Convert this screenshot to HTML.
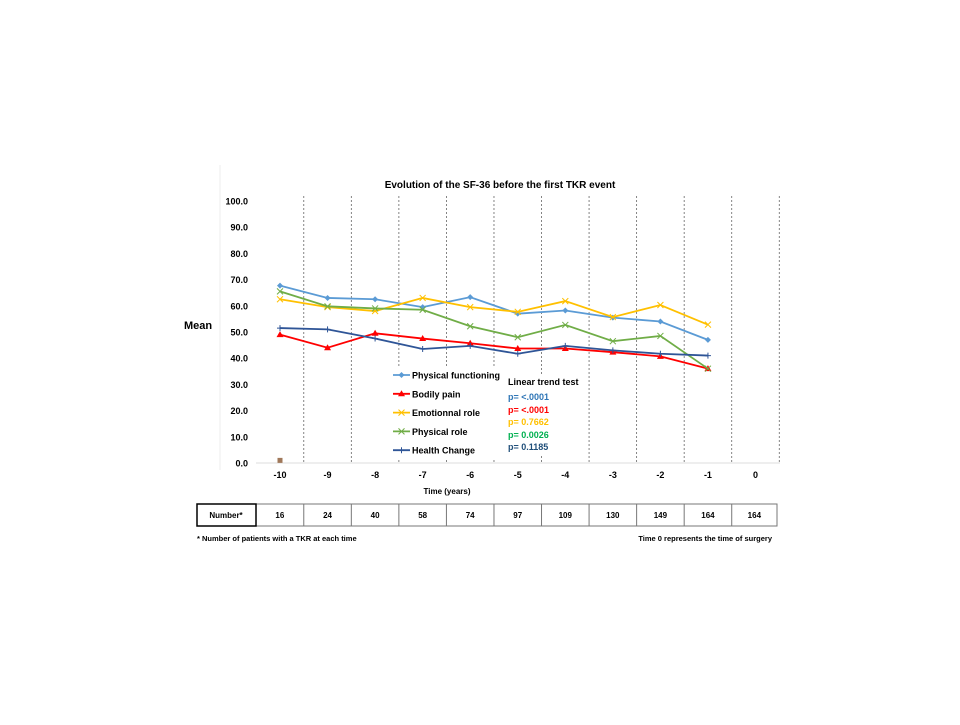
<!DOCTYPE html>
<html><head><meta charset="utf-8"><style>
body{margin:0;background:#fff;font-family:"Liberation Sans",sans-serif;}
svg text{font-family:"Liberation Sans",sans-serif;font-weight:bold;}
</style></head><body>
<svg id="c" width="960" height="720" viewBox="0 0 960 720">
<text x="500" y="188" font-size="10" text-anchor="middle">Evolution of the SF-36 before the first TKR event</text>
<text x="198" y="329" font-size="11" text-anchor="middle">Mean</text>
<text x="447" y="494" font-size="8" text-anchor="middle">Time (years)</text>
<line x1="220" y1="165" x2="220" y2="470" stroke="#eee"/>
<line x1="256" y1="463" x2="780" y2="463" stroke="#ddd"/>
<g id="grid"></g><g id="ticks"></g>
<rect x="388" y="366" width="112" height="92" fill="#fff"/>
<rect x="503" y="374" width="80" height="82" fill="#fff"/>
<g id="series"></g>
<g font-size="9">
<g id="legend"></g>
</g>
<g font-size="9">
<text x="508" y="385" fill="#000">Linear trend test</text>
<text x="508" y="400" fill="#2E75B6">p= &lt;.0001</text>
<text x="508" y="413" fill="#FF0000">p= &lt;.0001</text>
<text x="508" y="425" fill="#FFC000">p= 0.7662</text>
<text x="508" y="438" fill="#00B050">p= 0.0026</text>
<text x="508" y="450" fill="#1F4E79">p= 0.1185</text>
</g>
<g id="table" font-size="8"></g>
<text x="197" y="541" font-size="7.5">* Number of patients with a TKR at each time</text>
<text x="772" y="541" font-size="7.5" text-anchor="end">Time 0 represents the time of surgery</text>
</svg>
<script>
const categories=["-10","-9","-8","-7","-6","-5","-4","-3","-2","-1","0"];
const yTicks=[0,10,20,30,40,50,60,70,80,90,100];
const counts=[16,24,40,58,74,97,109,130,149,164,164];
const seriesNames=["Physical functioning","Bodily pain","Emotionnal role","Physical role","Health Change"];
const pfValues=[67.7,63.0,62.5,59.5,63.3,57.0,58.2,55.5,54.0,47.0];
const bpValues=[49.0,44.0,49.5,47.5,45.7,43.7,43.7,42.3,40.7,36.0];
const erValues=[62.5,59.5,58.0,63.0,59.5,57.7,61.8,55.7,60.3,52.8];
const prValues=[65.5,59.8,59.0,58.5,52.2,48.0,52.7,46.5,48.5,36.0];
const hcValues=[51.5,51.0,47.5,43.5,44.7,41.7,44.7,43.0,41.7,41.0];
const ns="http://www.w3.org/2000/svg";
const X0=280,STEP=47.55,Y0=463,YS=2.62;
const xs=i=>X0+i*STEP, ys=v=>Y0-v*YS;
function mk(t,a,p){const e=document.createElementNS(ns,t);for(const k in a)e.setAttribute(k,a[k]);p.appendChild(e);return e;}
const grid=document.getElementById('grid'),ticks=document.getElementById('ticks');
categories.forEach((c,i)=>{
 const l=mk('line',{x1:xs(i)+STEP/2,x2:xs(i)+STEP/2,y1:ys(100)-5,y2:Y0,stroke:'#666','stroke-dasharray':'2,2','stroke-width':0.8},grid);
 
 
 const t=mk('text',{x:xs(i),y:Y0+15,'font-size':9,'text-anchor':'middle'},ticks);t.textContent=c;
 
 
});
yTicks.forEach(v=>{const t=mk('text',{x:248,y:ys(v)+3.5,'font-size':9,'text-anchor':'end'},ticks);t.textContent=v.toFixed(1);
 
 });
const colors=["#5B9BD5","#FF0000","#FFC000","#70AD47","#2F5597"];
const data=[pfValues,bpValues,erValues,prValues,hcValues];
const markers=["diamond","tri","x","x","plus"];
function marker(g,type,x,y,c){
 if(type==='diamond')mk('path',{d:`M${x} ${y-3}L${x+3} ${y}L${x} ${y+3}L${x-3} ${y}Z`,fill:c},g);
 else if(type==='tri')mk('path',{d:`M${x} ${y-3.5}L${x+3.5} ${y+2.5}L${x-3.5} ${y+2.5}Z`,fill:c},g);
 else if(type==='x')mk('path',{d:`M${x-3} ${y-3}L${x+3} ${y+3}M${x+3} ${y-3}L${x-3} ${y+3}`,stroke:c,'stroke-width':1},g);
 else mk('path',{d:`M${x-3} ${y}L${x+3} ${y}M${x} ${y-3}L${x} ${y+3}`,stroke:c,'stroke-width':1},g);
}
const sg=document.getElementById('series');
data.forEach((vals,k)=>{
 const g=mk('g',{},sg);
 
 
 mk('polyline',{points:vals.map((v,i)=>xs(i)+','+ys(v)).join(' '),fill:'none',stroke:colors[k],'stroke-width':1.8},g);
 vals.forEach((v,i)=>marker(g,markers[k],xs(i),ys(v),colors[k]));
});
const odd=mk('rect',{x:xs(0)-2.5,y:ys(1)-2.5,width:5,height:5,fill:'#A0785A'},sg);


const lg=document.getElementById('legend');
seriesNames.forEach((n,k)=>{
 const y=375+k*18.8;
 const g=mk('g',{},lg);
 
 
 mk('line',{x1:393,x2:410,y1:y,y2:y,stroke:colors[k],'stroke-width':1.8},g);
 marker(g,markers[k],401.5,y,colors[k]);
 const t=mk('text',{x:412,y:y+3.5},g);t.textContent=n;
});
const tb=document.getElementById('table');
const edges=[197,256];for(let i=0;i<11;i++)edges.push(Math.min(777,xs(i)+STEP/2));
mk('rect',{x:197,y:504,width:580,height:22,fill:'none',stroke:'#777','stroke-width':1},tb);
mk('rect',{x:197,y:504,width:59,height:22,fill:'none',stroke:'#000','stroke-width':1.5},tb);
const h=mk('text',{x:226,y:518,'text-anchor':'middle'},tb);h.textContent='Number*';


counts.forEach((c,i)=>{
 const l=mk('line',{x1:edges[i+2],x2:edges[i+2],y1:504,y2:526,stroke:'#777'},tb);
 const t=mk('text',{x:(edges[i+1]+edges[i+2])/2,y:518,'text-anchor':'middle'},tb);t.textContent=c;
 
 
});
</script>
</body></html>
